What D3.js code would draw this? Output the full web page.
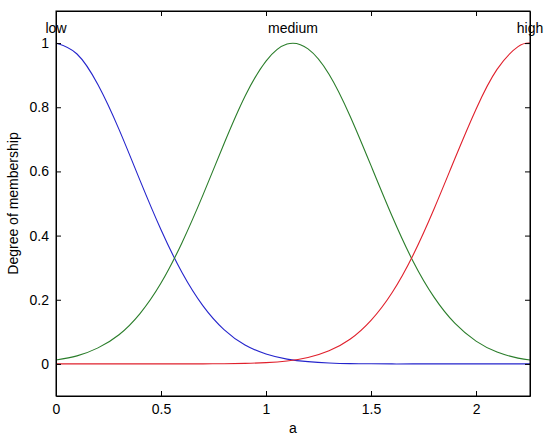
<!DOCTYPE html>
<html><head><meta charset="utf-8">
<script src="https://cdn.jsdelivr.net/npm/d3@7"></script>
<style>body{margin:0;background:#fff}svg{display:block}text{font-family:"Liberation Sans",Arial,sans-serif;font-size:14px;fill:#000}</style>
</head><body>
<script>
const xs = [0,0.1,0.2,0.3,0.4,0.5,0.6,0.7,0.8,0.9,1.0,1.1,1.2,1.3,1.4,1.5,1.6,1.7,1.8,1.9,2.0,2.1,2.2,2.257];
const low = [1,0.966,0.870,0.731,0.572,0.418,0.285,0.181,0.107,0.059,0.031,0.015,0.007,0.003,0.001,0.0004,0,0,0,0,0,0,0,0];
const medium = [0.012,0.025,0.050,0.091,0.157,0.252,0.378,0.527,0.686,0.834,0.944,0.997,0.982,0.903,0.773,0.618,0.461,0.320,0.208,0.126,0.071,0.037,0.018,0.012];
const high = [0,0,0,0,0,0,0,0.0002,0.0006,0.0016,0.004,0.009,0.020,0.041,0.077,0.136,0.222,0.339,0.483,0.641,0.794,0.918,0.989,1];
const mfNames = ["low","medium","high"];
const mfCenters = [0,1.1285,2.257];
const colors = ["#2424cc","#2a7d2a","#e0202c"];
const xTicks = [0,0.5,1,1.5,2];
const yTicks = [0,0.2,0.4,0.6,0.8,1];

const W=550,H=440, L=56,R=530,T=11,B=396;
const svg=d3.select("body").append("svg").attr("width",W).attr("height",H);
const x=d3.scaleLinear().domain([0,2.257]).range([L,R]);
const y=d3.scaleLinear().domain([-0.1,1.1]).range([B,T]);

const line=d3.line().x((d,i)=>x(xs[i])).y(d=>y(d)).curve(d3.curveNatural);
[low,medium,high].forEach((s,k)=>{
  svg.append("path").attr("d",line(s)).attr("fill","none").attr("stroke",colors[k]).attr("stroke-width",1.1);
});

const fmt=d=>String(d);
svg.append("g").attr("transform",`translate(0,${B})`).call(d3.axisBottom(x).tickValues(xTicks).tickFormat(fmt).tickSizeInner(-5).tickSizeOuter(0).tickPadding(8));
svg.append("g").attr("transform",`translate(0,${T})`).call(d3.axisTop(x).tickValues(xTicks).tickFormat("").tickSizeInner(-5).tickSizeOuter(0));
svg.append("g").attr("transform",`translate(${L},0)`).call(d3.axisLeft(y).tickValues(yTicks).tickFormat(fmt).tickSizeInner(-5).tickSizeOuter(0).tickPadding(7));
svg.append("g").attr("transform",`translate(${R},0)`).call(d3.axisRight(y).tickValues(yTicks).tickFormat("").tickSizeInner(-5).tickSizeOuter(0));
svg.selectAll(".domain").attr("stroke","#000");
svg.selectAll(".tick line").attr("stroke","#000");
svg.selectAll(".tick text").style("font-size","14px").style("font-family",'"Liberation Sans",Arial,sans-serif').attr("fill","#000");
svg.append("rect").attr("x",L).attr("y",T).attr("width",R-L).attr("height",B-T).attr("fill","none").attr("stroke","#000");

mfNames.forEach((n,k)=>{
  svg.append("text").attr("x",x(mfCenters[k])).attr("y",y(1.032)).attr("text-anchor","middle").text(n);
});
svg.append("text").attr("x",(L+R)/2).attr("y",433).attr("text-anchor","middle").text("a");
svg.append("text").attr("transform",`translate(18,${(T+B)/2}) rotate(-90)`).attr("text-anchor","middle").text("Degree of membership");
</script>
</body></html>
